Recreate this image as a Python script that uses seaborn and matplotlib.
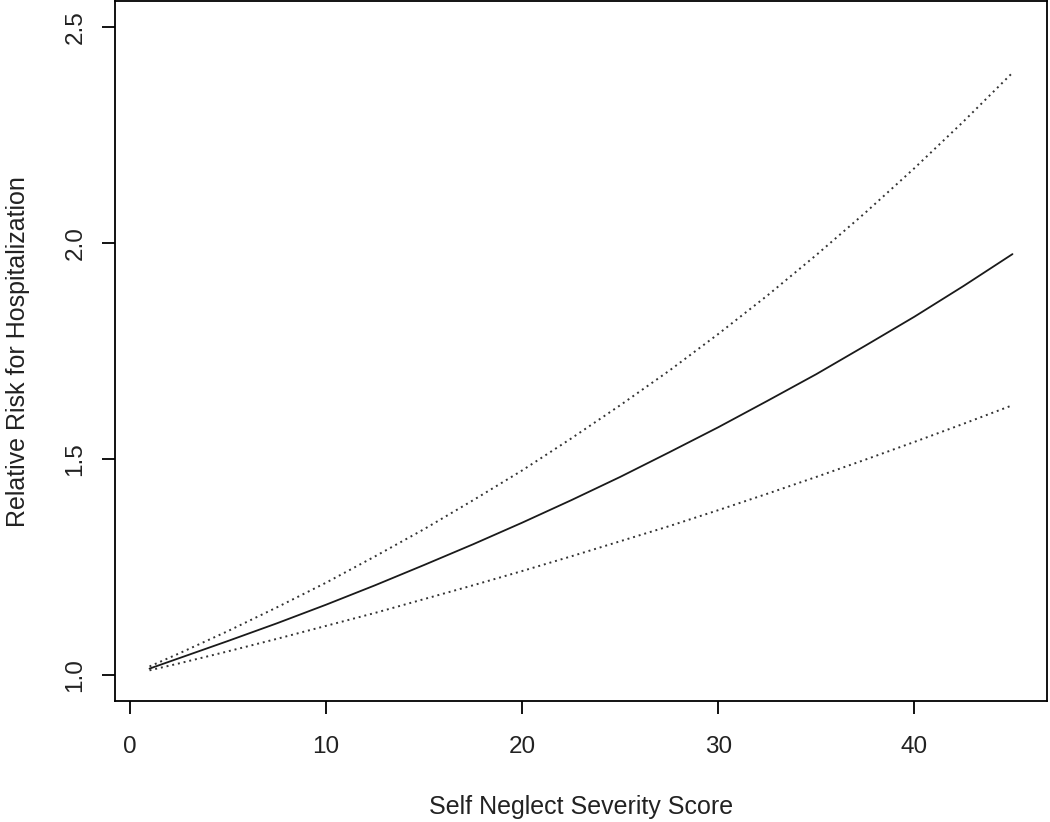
import matplotlib
matplotlib.use("Agg")
import matplotlib.pyplot as plt
import seaborn as sns
import pandas as pd

# Data
score = [1, 2.5, 5, 7.5, 10, 12.5, 15, 17.5, 20, 22.5, 25, 27.5, 30,
         32.5, 35, 37.5, 40, 42.5, 45]
rr_est = [1.015, 1.039, 1.079, 1.120, 1.163, 1.208, 1.255, 1.303, 1.353, 1.405,
          1.459, 1.516, 1.574, 1.635, 1.697, 1.763, 1.830, 1.901, 1.975]
rr_upper = [1.020, 1.050, 1.102, 1.157, 1.214, 1.275, 1.338, 1.405, 1.474, 1.548,
            1.625, 1.705, 1.790, 1.879, 1.973, 2.071, 2.174, 2.282, 2.395]
rr_lower = [1.011, 1.027, 1.055, 1.084, 1.114, 1.144, 1.176, 1.208, 1.241, 1.275,
            1.310, 1.345, 1.382, 1.420, 1.459, 1.499, 1.540, 1.582, 1.625]
x_ticks = [0, 10, 20, 30, 40]
y_ticks = [1.0, 1.5, 2.0, 2.5]
x_label = "Self Neglect Severity Score"
y_label = "Relative Risk for Hospitalization"

df = pd.DataFrame({"score": score, "est": rr_est, "upper": rr_upper, "lower": rr_lower})

sns.set_style("ticks")
plt.rcParams["font.family"] = ["Liberation Sans", "DejaVu Sans"]

fig = plt.figure(figsize=(10.5, 8.22), dpi=100)
ax = fig.add_axes([115 / 1050, 1 - 701 / 822, (1047 - 115) / 1050, (701 - 1.5) / 822])

sns.lineplot(data=df, x="score", y="est", ax=ax, color="#1a1a1a", linewidth=1.3)
sns.lineplot(data=df, x="score", y="upper", ax=ax, color="#333333", linewidth=1.4,
             linestyle=(0, (1, 2)))
sns.lineplot(data=df, x="score", y="lower", ax=ax, color="#333333", linewidth=1.4,
             linestyle=(0, (1, 2)))

ax.set_xlim(-0.76, 46.76)
ax.set_ylim(0.94, 2.56)
ax.set_xticks(x_ticks)
ax.set_xticklabels([str(t) for t in x_ticks])
ax.set_yticks(y_ticks)
ax.set_yticklabels([f"{t:.1f}" for t in y_ticks], rotation=90, va="center")

for s in ax.spines.values():
    s.set_visible(True)
    s.set_linewidth(1.3)
    s.set_color("black")

ax.tick_params(axis="both", direction="out", length=9.5, width=1.3, color="black",
               labelsize=17.5, labelcolor="#222222")
ax.tick_params(axis="x", pad=16)
ax.tick_params(axis="y", pad=11)

ax.set_xlabel(x_label, fontsize=18, color="#222222", labelpad=26)
ax.set_ylabel(y_label, fontsize=18, color="#222222", labelpad=25)

fig.savefig("out.png", dpi=100)
